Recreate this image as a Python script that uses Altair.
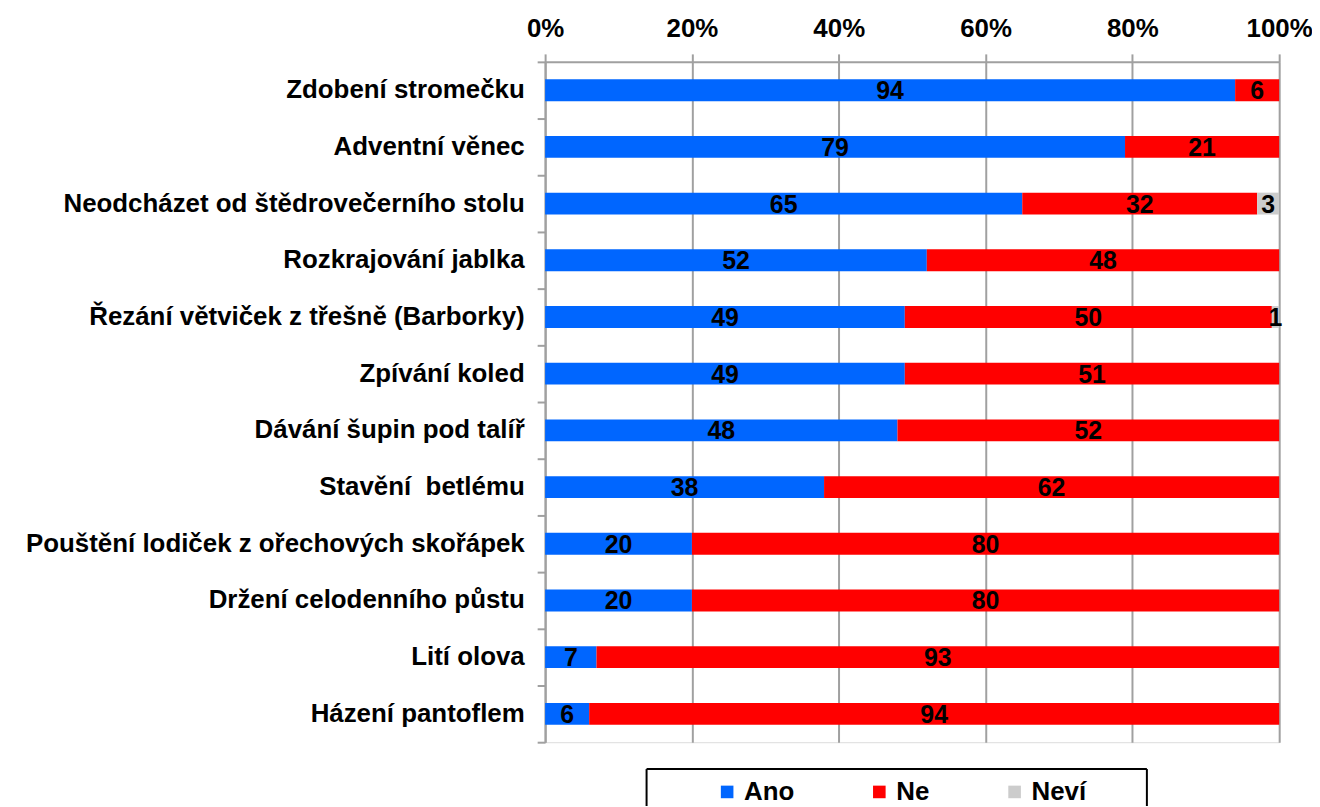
import altair as alt
import pandas as pd

categories = [
    "Zdobení stromečku",
    "Adventní věnec",
    "Neodcházet od štědrovečerního stolu",
    "Rozkrajování jablka",
    "Řezání větviček z třešně (Barborky)",
    "Zpívání koled",
    "Dávání šupin pod talíř",
    "Stavění \u00a0betlému",
    "Pouštění lodiček z ořechových skořápek",
    "Držení celodenního půstu",
    "Lití olova",
    "Házení pantoflem",
]
ano = [94, 79, 65, 52, 49, 49, 48, 38, 20, 20, 7, 6]
ne = [6, 21, 32, 48, 50, 51, 52, 62, 80, 80, 93, 94]
nevi = [0, 0, 3, 0, 1, 0, 0, 0, 0, 0, 0, 0]
series = ["Ano", "Ne", "Neví"]
colors = ["#0066FF", "#FF0000", "#CCCCCC"]
x_ticks = [0, 20, 40, 60, 80, 100]

rows = []
for i, c in enumerate(categories):
    for j, vals in enumerate([ano, ne, nevi]):
        rows.append({"cat": c, "series": series[j], "order": j, "value": vals[i]})
df = pd.DataFrame(rows)

FONT = "Liberation Sans"
GRAY = "#A0A0A0"

base = (
    alt.Chart(df)
    .transform_stack(
        stack="value", groupby=["cat"], sort=[alt.SortField("order")], as_=["v0", "v1"]
    )
    .transform_calculate(mid="(datum.v0 + datum.v1) / 2")
)

y_enc = alt.Y(
    "cat:N",
    sort=categories,
    title=None,
    scale=alt.Scale(paddingInner=0, paddingOuter=0),
    axis=alt.Axis(
        orient="left",
        bandPosition=1,
        tickExtra=True,
        tickSize=8,
        tickColor=GRAY,
        tickWidth=2,
        domainColor=GRAY,
        domainWidth=2,
        labelFontSize=26,
        labelFontWeight="bold",
        labelColor="black",
        labelFont=FONT,
        labelPadding=13,
        labelLimit=0,
        grid=False,
    ),
)

bars = base.mark_bar(size=22).encode(
    x=alt.X(
        "v0:Q",
        scale=alt.Scale(domain=[0, 100], nice=False),
        title=None,
        axis=alt.Axis(
            orient="top",
            values=x_ticks,
            labelExpr="datum.value + '%'",
            tickSize=8,
            tickColor=GRAY,
            tickWidth=2,
            domainColor=GRAY,
            domainWidth=2,
            grid=True,
            gridColor=GRAY,
            gridWidth=2,
            labelFontSize=26,
            labelFontWeight="bold",
            labelColor="black",
            labelFont=FONT,
            labelPadding=12,
            labelFlush=False,
        ),
    ),
    x2="v1:Q",
    y=y_enc,
    color=alt.Color(
        "series:N",
        scale=alt.Scale(domain=series, range=colors),
        legend=alt.Legend(
            orient="none",
            legendX=170,
            legendY=721,
            direction="horizontal",
            title=None,
            symbolType="square",
            symbolSize=160,
            symbolStrokeWidth=0,
            labelFontSize=26,
            labelFontWeight="bold",
            labelColor="black",
            labelFont=FONT,
            columnPadding=72,
            labelOffset=4,
            padding=0,
        ),
    ),
    order=alt.Order("order:Q"),
)

texts = base.transform_filter("datum.value > 0").mark_text(
    fontSize=25, fontWeight="bold", color="black", font=FONT, baseline="middle", align="center", dy=1
).encode(
    x="mid:Q",
    y=alt.Y("cat:N", sort=categories),
    text="value:Q",
)

box_src = alt.Chart(pd.DataFrame({"k": [0]}))
box_top = box_src.mark_rule(color="black", strokeWidth=2).encode(
    x=alt.value(102), x2=alt.value(605), y=alt.value(711)
)
box_left = box_src.mark_rule(color="black", strokeWidth=2).encode(
    x=alt.value(102), y=alt.value(711), y2=alt.value(760)
)
box_right = box_src.mark_rule(color="black", strokeWidth=2).encode(
    x=alt.value(605), y=alt.value(711), y2=alt.value(760)
)

chart = (
    alt.layer(bars, texts, box_top, box_left, box_right)
    .properties(
        width=738,
        height=684,
        autosize=alt.AutoSizeParams(type="none"),
        padding={"left": 540, "top": 52, "right": 33, "bottom": 62},
    )
    .configure_view(stroke=None)
    .configure(font=FONT)
)

chart.save("out.html", embed_options={"renderer": "svg", "actions": False})
